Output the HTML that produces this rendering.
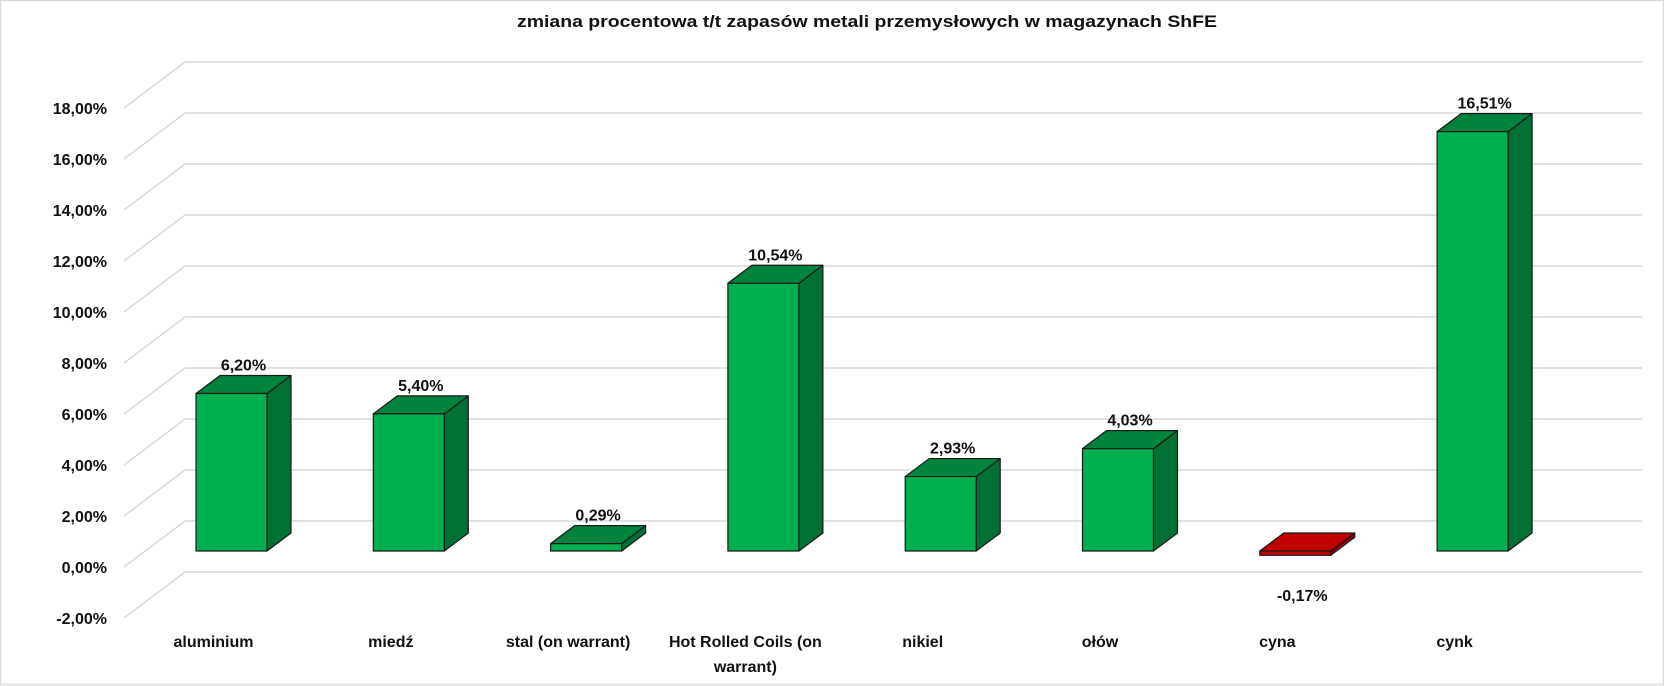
<!DOCTYPE html>
<html><head><meta charset="utf-8"><style>
html,body{margin:0;padding:0;background:#fff}
svg{display:block}
text{font-family:"Liberation Sans",sans-serif;font-weight:bold;fill:#111}
</style></head><body>
<svg width="1664" height="686" viewBox="0 0 1664 686" xmlns="http://www.w3.org/2000/svg">
<rect x="0.5" y="0.5" width="1663" height="684" fill="#fff" stroke="#d9d9d9" stroke-width="1.5"/>
<text x="867" y="27" font-size="17" text-anchor="middle" textLength="700" lengthAdjust="spacingAndGlyphs">zmiana procentowa t/t zapasów metali przemysłowych w magazynach ShFE</text>
<g stroke="#d9d9d9" stroke-width="1.5" fill="none" id="grid"></g>
<g id="ylab"></g>
<g id="bars"></g>
<script>
(function(){
var ns="http://www.w3.org/2000/svg";
function el(p,t,a,txt){var e=document.createElementNS(ns,t);for(var k in a)e.setAttribute(k,a[k]);if(txt!=null)e.textContent=txt;p.appendChild(e);return e;}
var g=document.getElementById('grid'),yl=document.getElementById('ylab'),b=document.getElementById('bars');
for(var i=0;i<=10;i++){
  var v=18-2*i, yb=62+51*i, yf=yb+46;
  el(g,'polyline',{points:'124,'+yf+' 185,'+yb+' 1642,'+yb});
  el(yl,'text',{x:107,y:yf+6,'font-size':16,'text-anchor':'end'},v.toFixed(2).replace('.',',')+'%');
}
var data=[["aluminium",6.20],["miedź",5.40],["stal (on warrant)",0.29],["Hot Rolled Coils (on|warrant)",10.54],["nikiel",2.93],["ołów",4.03],["cyna",-0.17],["cynk",16.51]];
var base=551,k=25.4,w=71,dx=24,dy=18;
data.forEach(function(d,i){
  var x=196+i*177.3,v=d[1],neg=v<0;
  var yt=neg?base:base-v*k, yb=neg?base+(-v)*k:base;
  var cf=neg?'#c00000':'#00b050',ct=neg?'#c00000':'#00843d',cs=neg?'#8e0000':'#007034';
  var st={stroke:'#1a1a1a','stroke-width':1.2,'stroke-linejoin':'round'};
  function P(pts,f){var a={points:pts,fill:f};for(var s in st)a[s]=st[s];el(b,'polygon',a);}
  P((x+w)+','+yt+' '+(x+w+dx)+','+(yt-dy)+' '+(x+w+dx)+','+(yb-dy)+' '+(x+w)+','+yb,cs);
  P(x+','+yt+' '+(x+dx)+','+(yt-dy)+' '+(x+w+dx)+','+(yt-dy)+' '+(x+w)+','+yt,ct);
  P(x+','+yt+' '+(x+w)+','+yt+' '+(x+w)+','+yb+' '+x+','+yb,cf);
  var cx=x+w/2;
  var lab=v.toFixed(2).replace('.',',')+'%';
  if(neg) el(b,'text',{x:cx+7,y:601,'font-size':16,'text-anchor':'middle'},lab);
  else el(b,'text',{x:cx+12,y:yt-dy-5,'font-size':16,'text-anchor':'middle'},lab);
  var parts=d[0].split('|');
  parts.forEach(function(p,j){el(b,'text',{x:cx-18,y:647+j*25,'font-size':16,'text-anchor':'middle'},p);});
});
})();
</script>
</svg>
</body></html>
